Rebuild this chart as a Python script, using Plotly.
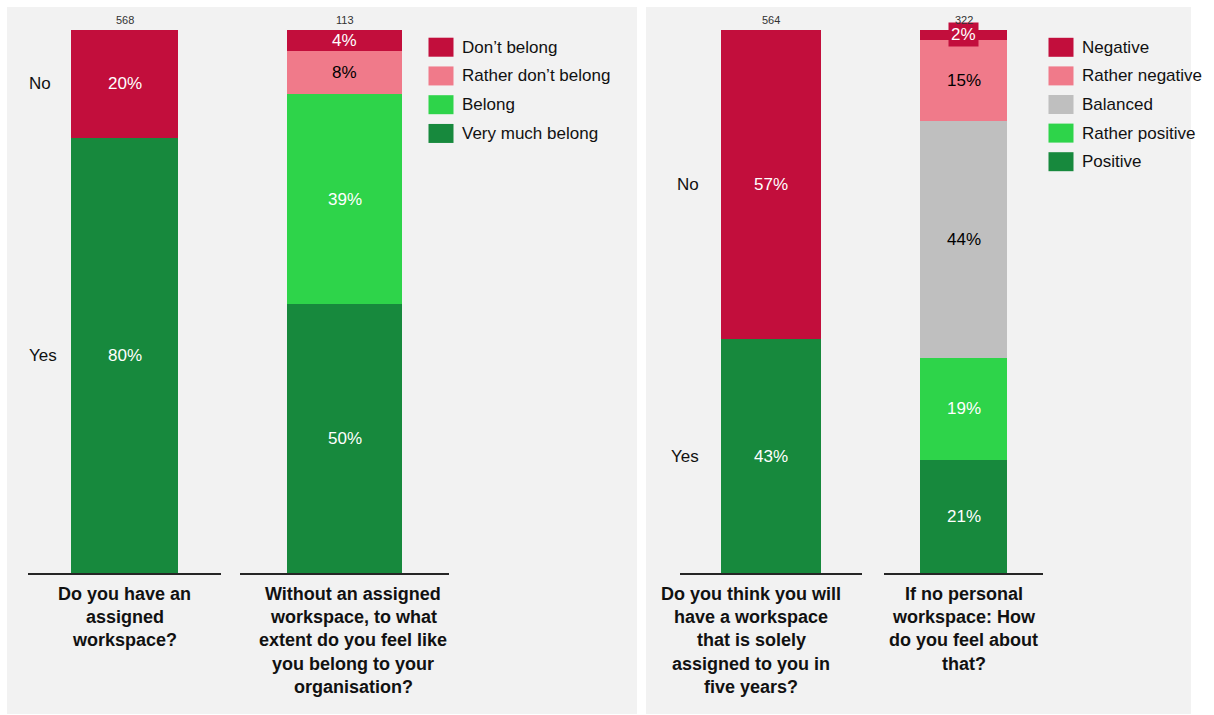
import plotly.graph_objects as go

# ---- survey data -------------------------------------------------------
q1_labels = ["Yes", "No"]
q1_values = [80, 20]
q1_n = 568
q1_title = ["Do you have an", "assigned", "workspace?"]

q2_labels = ["Very much belong", "Belong", "Rather don’t belong", "Don’t belong"]
q2_values = [50, 39, 8, 4]
q2_n = 113
q2_title = ["Without an assigned", "workspace, to what", "extent do you feel like",
            "you belong to your", "organisation?"]

q3_labels = ["Yes", "No"]
q3_values = [43, 57]
q3_n = 564
q3_title = ["Do you think you will", "have a workspace", "that is solely",
            "assigned to you in", "five years?"]

q4_labels = ["Positive", "Rather positive", "Balanced", "Rather negative", "Negative"]
q4_values = [21, 19, 44, 15, 2]
q4_n = 322
q4_title = ["If no personal", "workspace: How", "do you feel about", "that?"]

# ---- styling -----------------------------------------------------------
RED = "#C20E3C"
PINK = "#F07A8A"
GRAY = "#BFBFBF"
LGREEN = "#2ED44A"
DGREEN = "#17893D"
TEXT_ON = {RED: "white", DGREEN: "white", LGREEN: "white", PINK: "black", GRAY: "black"}
FONT = "Liberation Sans, Arial, sans-serif"

W, H = 1214, 715


def fx(p):
    return p / W


def fy(p):
    return 1 - p / H


charts = [
    dict(key="Q1", labels=q1_labels, values=q1_values, n=q1_n, title=q1_title,
         colors=[DGREEN, RED], span=(28, 221), title_x=124.5, cat_side="left", cat_x=27),
    dict(key="Q2", labels=q2_labels, values=q2_values, n=q2_n, title=q2_title,
         colors=[DGREEN, LGREEN, PINK, RED], span=(240, 449), title_x=353,
         legend=dict(x=428.5, y=47.2, step=28.75)),
    dict(key="Q3", labels=q3_labels, values=q3_values, n=q3_n, title=q3_title,
         colors=[DGREEN, RED], span=(680, 862), title_x=751, cat_side="right", cat_x=701),
    dict(key="Q4", labels=q4_labels, values=q4_values, n=q4_n, title=q4_title,
         colors=[DGREEN, LGREEN, GRAY, PINK, RED], span=(884, 1043), title_x=963.5,
         legend=dict(x=1048.5, y=47.3, step=28.6)),
]

fig = go.Figure()
annotations = []
shapes = []

# grey panels behind each pair of questions
for x0, x1 in [(7, 637), (646, 1191)]:
    shapes.append(dict(type="rect", xref="paper", yref="paper",
                       x0=fx(x0), x1=fx(x1), y0=fy(714), y1=fy(7),
                       fillcolor="#F2F2F2", line=dict(width=0), layer="below"))

PLOT_TOP, PLOT_BOTTOM = 29.5, 573

for i, ch in enumerate(charts):
    ax = "x" if i == 0 else f"x{i + 1}"
    axkey = "xaxis" if i == 0 else f"xaxis{i + 1}"
    cat = ch["key"]
    total = sum(ch["values"])

    for lab, val, col in zip(ch["labels"], ch["values"], ch["colors"]):
        fig.add_trace(go.Bar(x=[cat], y=[val], name=lab, marker=dict(color=col, line=dict(width=0)),
                             width=0.55, xaxis=ax, yaxis="y", showlegend=False,
                             hovertemplate=f"{lab}: {val}%<extra></extra>"))

    # percentage labels centred on each stacked segment
    cum = 0
    for lab, val, col in zip(ch["labels"], ch["values"], ch["colors"]):
        mid = (cum + val / 2) / total * 100
        cum += val
        small = val / total < 0.03
        annotations.append(dict(x=cat, xref=ax, y=mid, yref="y", text=f"{val}%",
                                showarrow=False, font=dict(family=FONT, size=17, color=TEXT_ON[col]),
                                bgcolor=col if small else None, borderpad=2 if small else 0))
        if "cat_side" in ch:
            annotations.append(dict(x=fx(ch["cat_x"]), xref="paper", y=mid, yref="y",
                                    text=lab, showarrow=False, xanchor=ch["cat_side"],
                                    font=dict(family=FONT, size=17, color="#111111")))

    # respondent count above bar
    annotations.append(dict(x=cat, xref=ax, y=100, yref="y", yanchor="bottom", yshift=2,
                            text=str(ch["n"]), showarrow=False,
                            font=dict(family=FONT, size=11, color="#333333")))

    # question text under the baseline
    for j, line in enumerate(ch["title"]):
        annotations.append(dict(x=fx(ch["title_x"]), xref="paper", y=fy(594 + 23.2 * j), yref="paper",
                                text=f"<b>{line}</b>", showarrow=False, xanchor="center",
                                yanchor="middle", font=dict(family=FONT, size=18, color="#111111")))

    fig.update_layout({axkey: dict(domain=[fx(ch["span"][0]), fx(ch["span"][1])],
                                   anchor="y", type="category", range=[-0.5, 0.5],
                                   showline=True, linecolor="#262626", linewidth=2,
                                   showticklabels=False, ticks="", showgrid=False,
                                   zeroline=False, fixedrange=True)})

    # legend: swatches and names, top entry is the top segment
    if "legend" in ch:
        lg = ch["legend"]
        items = list(zip(ch["labels"], ch["colors"]))[::-1]
        for k, (lab, col) in enumerate(items):
            yc = lg["y"] + lg["step"] * k
            shapes.append(dict(type="rect", xref="paper", yref="paper",
                               x0=fx(lg["x"]), x1=fx(lg["x"] + 25),
                               y0=fy(yc + 9.5), y1=fy(yc - 9.5),
                               fillcolor=col, line=dict(width=0)))
            annotations.append(dict(x=fx(lg["x"] + 31.5), xref="paper", y=fy(yc), yref="paper",
                                    text=lab, showarrow=False, xanchor="left", yanchor="middle",
                                    font=dict(family=FONT, size=17, color="#111111")))

fig.update_layout(
    width=W, height=H,
    margin=dict(l=0, r=0, t=0, b=0),
    paper_bgcolor="white",
    plot_bgcolor="rgba(0,0,0,0)",
    barmode="stack",
    barnorm="percent",
    showlegend=False,
    font=dict(family=FONT),
    yaxis=dict(domain=[fy(PLOT_BOTTOM), fy(PLOT_TOP)], range=[0, 100], visible=False,
               showgrid=False, zeroline=False, fixedrange=True),
    annotations=annotations,
    shapes=shapes,
)

fig.write_html("out.html")
